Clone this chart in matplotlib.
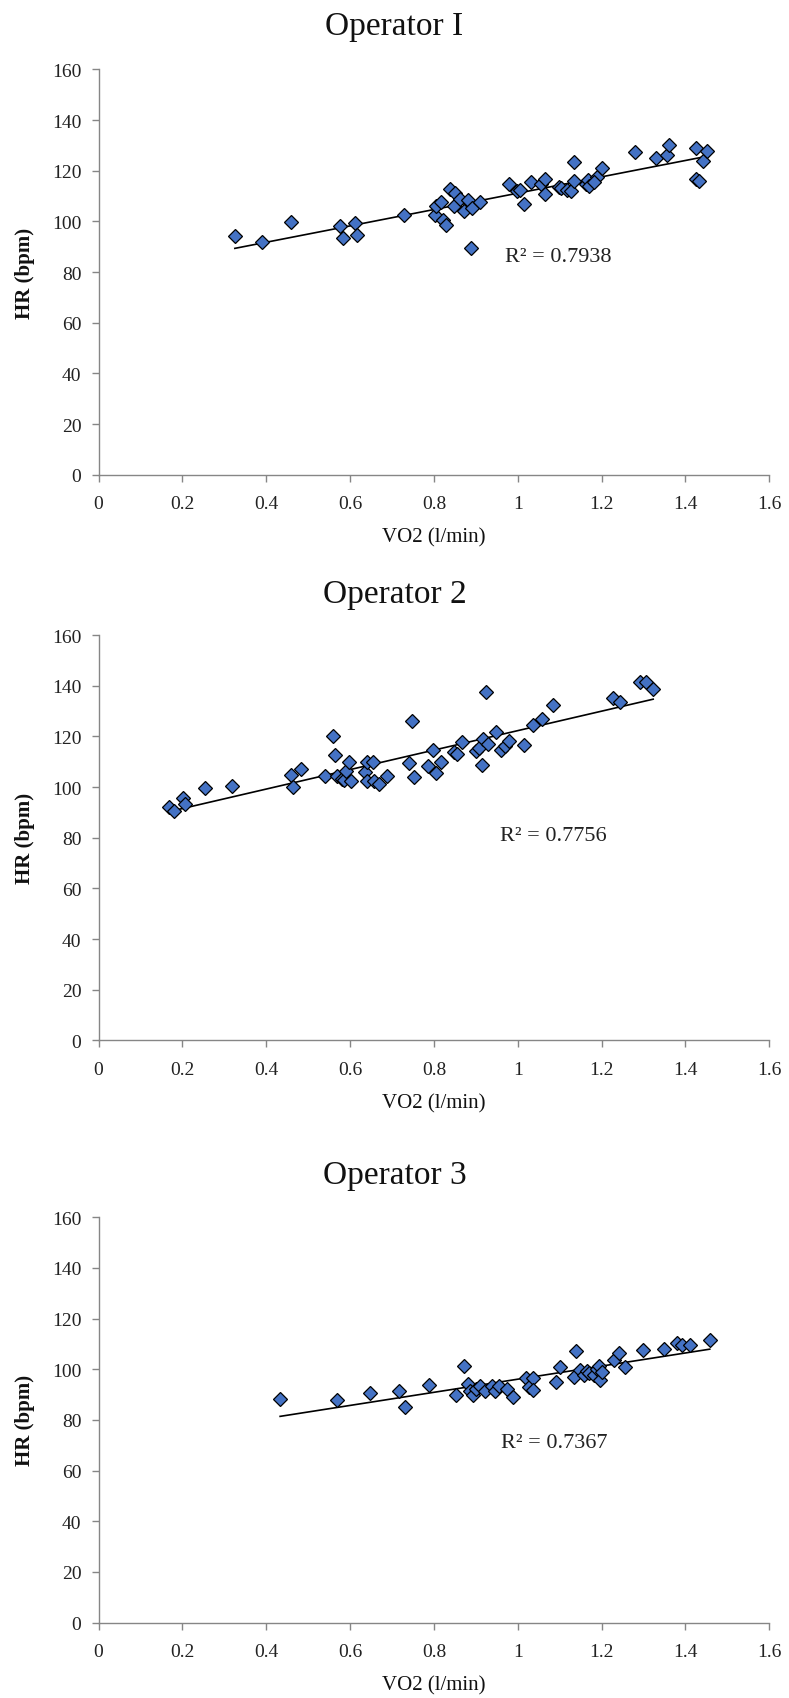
import numpy as np
import matplotlib
matplotlib.use("Agg")
import matplotlib.pyplot as plt
from matplotlib.ticker import FuncFormatter

# Operator 1 -- VO2 (l/min) and HR (bpm)
vo2_op1 = [0.325, 0.390, 0.460, 0.576, 0.584, 0.611, 0.617, 0.729, 0.802, 0.804,
           0.818, 0.822, 0.828, 0.839, 0.851, 0.847, 0.862, 0.871, 0.882, 0.891,
           0.889, 0.910, 0.980, 0.999, 1.005, 1.014, 1.032, 1.055, 1.066, 1.066,
           1.099, 1.104, 1.118, 1.127, 1.135, 1.135, 1.163, 1.168, 1.171, 1.188,
           1.182, 1.202, 1.280, 1.330, 1.356, 1.360, 1.424, 1.424, 1.432, 1.441,
           1.452]
hr_op1 = [94.1, 91.8, 99.8, 98.1, 93.5, 99.2, 94.8, 102.6, 102.4, 106.2,
          107.5, 100.4, 98.5, 112.8, 111.0, 105.9, 109.0, 104.1, 108.6, 105.3,
          89.5, 107.5, 114.9, 111.8, 112.5, 107.0, 115.4, 114.9, 116.7, 110.9,
          113.5, 113.0, 112.2, 112.0, 123.4, 115.8, 114.9, 116.5, 114.1, 117.7,
          115.4, 121.0, 127.3, 125.0, 126.1, 130.2, 129.1, 116.8, 115.8, 123.9,
          127.6]

# Operator 2
vo2_op2 = [0.168, 0.179, 0.202, 0.205, 0.253, 0.318, 0.460, 0.464, 0.484, 0.541,
           0.560, 0.563, 0.569, 0.580, 0.585, 0.591, 0.597, 0.603, 0.635, 0.640,
           0.641, 0.655, 0.657, 0.668, 0.688, 0.740, 0.747, 0.752, 0.785, 0.797,
           0.805, 0.818, 0.847, 0.855, 0.866, 0.901, 0.907, 0.914, 0.918, 0.925,
           0.929, 0.947, 0.960, 0.969, 0.979, 1.016, 1.036, 1.057, 1.085, 1.227,
           1.244, 1.291, 1.307, 1.323]
hr_op2 = [92.2, 90.5, 95.7, 93.5, 99.7, 100.3, 104.9, 100.1, 107.1, 104.5,
          120.0, 112.8, 104.3, 103.2, 102.7, 106.2, 109.9, 102.3, 106.0, 109.9,
          102.3, 109.9, 102.6, 101.4, 104.3, 109.5, 126.2, 104.0, 108.2, 114.5,
          105.6, 109.8, 113.7, 113.2, 118.0, 114.4, 115.4, 108.9, 119.1, 137.4,
          117.0, 121.7, 114.8, 116.1, 118.4, 116.7, 124.6, 126.8, 132.5, 135.3,
          133.5, 141.6, 141.6, 138.6]

# Operator 3
vo2_op3 = [0.433, 0.569, 0.647, 0.716, 0.732, 0.788, 0.853, 0.872, 0.882, 0.885,
           0.894, 0.901, 0.910, 0.921, 0.938, 0.946, 0.955, 0.975, 0.988, 1.019,
           1.027, 1.036, 1.036, 1.090, 1.101, 1.134, 1.138, 1.149, 1.158, 1.166,
           1.170, 1.182, 1.190, 1.193, 1.197, 1.200, 1.229, 1.241, 1.255, 1.299,
           1.349, 1.380, 1.391, 1.410, 1.458]
hr_op3 = [88.4, 87.7, 90.6, 91.3, 85.0, 93.6, 90.0, 101.4, 94.3, 91.5,
          90.0, 92.3, 93.2, 91.3, 93.2, 91.5, 93.2, 92.3, 88.9, 96.5,
          93.0, 96.5, 91.9, 95.0, 100.9, 96.9, 107.0, 99.8, 97.6, 99.2,
          98.5, 97.6, 100.1, 101.1, 95.9, 99.0, 103.8, 106.4, 100.9, 107.7,
          108.1, 110.3, 109.7, 109.7, 111.6]

titles = ["Operator I", "Operator 2", "Operator 3"]
r2_labels = ["R\u00b2 = 0.7938", "R\u00b2 = 0.7756", "R\u00b2 = 0.7367"]
r2_pos = [(0.97, 86), (0.958, 81), (0.96, 71)]

plt.rcParams['font.family'] = ['Liberation Serif', 'DejaVu Serif']

fig = plt.figure(figsize=(7.89, 16.99), dpi=100)
bottoms = [0.7200, 0.3870, 0.0444]
title_y = [0.984, 0.650, 0.308]
grey = "#868686"

def tick_fmt(v, pos):
    return "%g" % round(v, 2)

series = [(vo2_op1, hr_op1), (vo2_op2, hr_op2), (vo2_op3, hr_op3)]
for i, (xs, ys) in enumerate(series):
    ax = fig.add_axes([0.125, bottoms[i], 0.850, 0.2386])
    xs = np.array(xs)
    ys = np.array(ys)

    ax.plot(xs, ys, linestyle="none", marker="D", markersize=7,
            markerfacecolor="#4472C4", markeredgecolor="black",
            markeredgewidth=0.9, zorder=3)

    # linear trend line
    b, a = np.polyfit(xs, ys, 1)
    xl = np.array([xs.min(), xs.max()])
    ax.plot(xl, a + b * xl, color="black", lw=1.2, zorder=2)

    ax.text(r2_pos[i][0], r2_pos[i][1], r2_labels[i], fontsize=16,
            ha="left", va="center", color="#222222")

    ax.set_xlim(0, 1.6)
    ax.set_ylim(0, 160)
    ax.set_xticks(np.arange(0, 1.61, 0.2))
    ax.set_yticks(np.arange(0, 161, 20))
    ax.xaxis.set_major_formatter(FuncFormatter(tick_fmt))
    ax.yaxis.set_major_formatter(FuncFormatter(tick_fmt))

    for side in ["top", "right"]:
        ax.spines[side].set_visible(False)
    for side in ["left", "bottom"]:
        ax.spines[side].set_color(grey)
        ax.spines[side].set_linewidth(1.0)
    ax.tick_params(colors=grey, labelcolor="#222222", labelsize=14,
                   length=5, width=1.0, direction="out")
    ax.tick_params(axis="x", pad=9.5)
    ax.tick_params(axis="y", pad=7.5)

    ax.set_xlabel("VO2 (l/min)", fontsize=15, labelpad=11, color="#111111")
    ax.set_ylabel("HR (bpm)", fontsize=15, labelpad=12, color="#111111",
                  fontweight="bold")
    fig.text(0.5, title_y[i], titles[i], fontsize=24, ha="center",
             va="center", color="#111111")

fig.savefig("out.png", dpi=100)
